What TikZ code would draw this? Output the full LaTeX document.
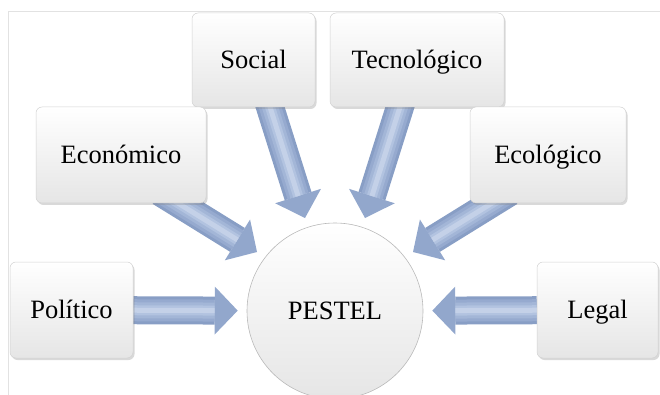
\documentclass[tikz,border=0pt]{standalone}
\usepackage{fontspec}
\setmainfont{Liberation Serif}
\usetikzlibrary{arrows.meta,shadows}
\pgfdeclarelayer{back}
\pgfsetlayers{back,main}
\definecolor{arrowA}{RGB}{136,158,197}
\definecolor{arrowB}{RGB}{150,170,207}
\definecolor{arrowC}{RGB}{163,182,215}
\definecolor{arrowD}{RGB}{178,195,224}
\definecolor{arrowE}{RGB}{196,209,232}
\definecolor{arrowtip}{RGB}{146,167,204}
\definecolor{framegray}{RGB}{226,226,226}
\tikzset{
  factor/.style={draw=gray!35, line width=0.5pt, rounded corners=6pt,
    top color=white, bottom color=gray!20,
    drop shadow={shadow xshift=1.5pt, shadow yshift=-2pt, opacity=0.3},
    font=\fontsize{26.5}{30}\selectfont, inner sep=0pt,
    text height=17pt, text depth=0pt},
  hub/.style={circle, draw=gray!55, line width=0.6pt,
    top color=white, bottom color=gray!20,
    minimum size=176pt, inner sep=0pt,
    font=\fontsize{26.5}{30}\selectfont, text height=17pt, text depth=0pt},
  blockarrow/.style={line width=28pt, draw=arrowA,
    -{Triangle[length=23pt,width=48pt,line width=0pt,fill=arrowtip]}},
  arrowlayer/.style={line width=#1},
}
\begin{document}
\begin{tikzpicture}[x=1pt,y=-1pt]
\useasboundingbox (0,0) rectangle (660,395);
% factor boxes
\node[factor, minimum width=123pt, minimum height=94pt] (soc) at (253.5,60) {Social};
\node[factor, minimum width=174pt, minimum height=94pt] (tec) at (417,60) {Tecnológico};
\node[factor, minimum width=170pt, minimum height=96pt] (eco) at (121,155) {Económico};
\node[factor, minimum width=156pt, minimum height=96pt] (ecl) at (548,155) {Ecológico};
\node[factor, minimum width=123pt, minimum height=96pt] (pol) at (71.5,310) {Político};
\node[factor, minimum width=121pt, minimum height=96pt] (leg) at (597.5,310) {Legal};
\node[hub] (pestel) at (335,311) {PESTEL};
% arrow end points
\coordinate (s1) at (160,192);   \coordinate (t1) at (257,252);
\coordinate (s2) at (267.8,100); \coordinate (t2) at (305,218);
\coordinate (s3) at (402.2,100); \coordinate (t3) at (365,218);
\coordinate (s4) at (510,192);   \coordinate (t4) at (413,252);
\begin{pgfonlayer}{back}
  \draw[framegray, line width=1pt] (8,395) -- (8,12) -- (660,12);
  \foreach \a/\b/\s/\t in {pol/pestel/9pt/32pt, leg/pestel/9pt/32pt,
      s1/t1/0pt/23pt, s2/t2/0pt/23pt, s3/t3/0pt/23pt, s4/t4/0pt/23pt}{
    \draw[blockarrow, shorten >=\s] (\a) -- (\b);
    \foreach \w/\c in {22pt/arrowB, 16pt/arrowC, 10pt/arrowD, 5pt/arrowE}{
      \draw[arrowlayer=\w, draw=\c, shorten >=\t] (\a) -- (\b);
    }
  }
\end{pgfonlayer}
\end{tikzpicture}
\end{document}
